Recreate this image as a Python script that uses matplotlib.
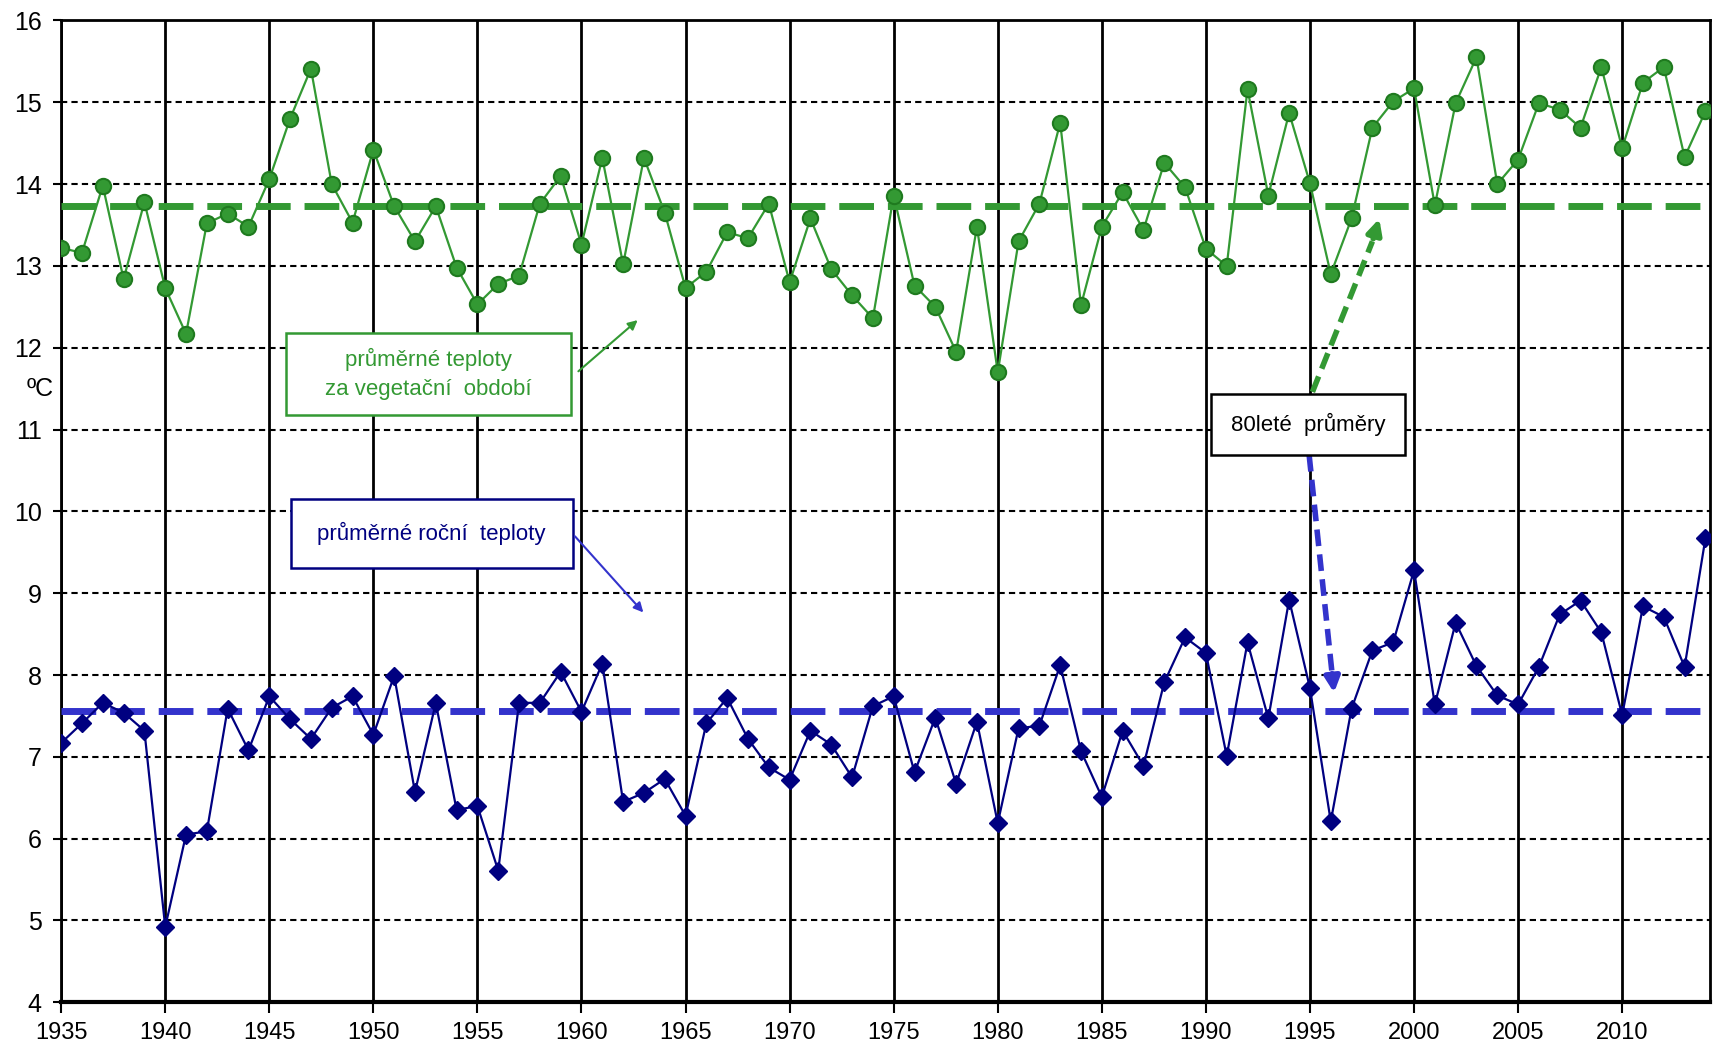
"""
Průměrné teploty 1935-2014: roční a za vegetační období, s 80letými průměry.
"""

import matplotlib

matplotlib.use("Agg")
import matplotlib.pyplot as plt
import numpy as np
from matplotlib.patches import Rectangle

years = np.arange(1935, 2015)

# average temperature in vegetation period (°C)
veg_temp = [
    13.22, 13.16, 13.98, 12.84, 13.78, 12.73, 12.17, 13.52, 13.64, 13.48,
    14.06, 14.80, 15.41, 14.00, 13.53, 14.42, 13.73, 13.30, 13.73, 12.98,
    12.53, 12.78, 12.88, 13.76, 14.10, 13.26, 14.32, 13.02, 14.32, 13.65,
    12.73, 12.93, 13.41, 13.34, 13.76, 12.80, 13.58, 12.96, 12.64, 12.36,
    13.86, 12.76, 12.50, 11.95, 13.48, 11.70, 13.30, 13.76, 14.75, 12.52,
    13.48, 13.90, 13.44, 14.26, 13.96, 13.21, 13.00, 15.16, 13.86, 14.87,
    14.01, 12.90, 13.58, 14.69, 15.01, 15.17, 13.74, 14.99, 15.55, 14.00,
    14.30, 14.99, 14.91, 14.69, 15.43, 14.44, 15.24, 15.43, 14.33, 14.89,
]

# average annual temperature (°C)
annual_temp = [
    7.17, 7.41, 7.66, 7.54, 7.32, 4.92, 6.05, 6.09, 7.59, 7.08,
    7.74, 7.46, 7.22, 7.60, 7.74, 7.27, 7.99, 6.57, 7.66, 6.35,
    6.40, 5.61, 7.66, 7.66, 8.04, 7.55, 8.14, 6.45, 6.56, 6.73,
    6.28, 7.41, 7.72, 7.22, 6.87, 6.72, 7.32, 7.15, 6.75, 7.62,
    7.74, 6.81, 7.48, 6.67, 7.43, 6.19, 7.35, 7.38, 8.12, 7.07,
    6.51, 7.32, 6.89, 7.91, 8.46, 8.27, 7.01, 8.40, 7.47, 8.92,
    7.84, 6.21, 7.59, 8.30, 8.40, 9.28, 7.64, 8.64, 8.11, 7.75,
    7.64, 8.10, 8.74, 8.91, 8.52, 7.51, 8.84, 8.71, 8.10, 9.67,
]

# 80-year means as drawn in the chart
veg_mean = 13.73
annual_mean = 7.56

GREEN = "#339933"
GREEN_EDGE = "#1f7a1f"
NAVY = "#000080"
BLUE = "#3333cc"
FONT = ["Liberation Sans Narrow", "Liberation Sans", "DejaVu Sans"]

plt.rcParams["font.family"] = FONT

fig = plt.figure(figsize=(17.13, 10.49), dpi=100)
ax = fig.add_axes([0.0357, 0.0445, 0.9623, 0.936])

ax.plot(years, veg_temp, "-o", color=GREEN, lw=1.6, ms=11,
        markerfacecolor=GREEN, markeredgecolor=GREEN_EDGE, mew=1.5, zorder=4)
ax.plot(years, annual_temp, "-D", color=NAVY, lw=1.6, ms=9,
        markerfacecolor=NAVY, markeredgecolor=NAVY, zorder=4)

ax.axhline(veg_mean, color=GREEN, lw=5, ls=(0, (5, 2)), zorder=3)
ax.axhline(annual_mean, color=BLUE, lw=5, ls=(0, (5, 2)), zorder=3)

ax.set_xlim(1935, 2014.2)
ax.set_ylim(4, 16)
ax.set_xticks(np.arange(1935, 2011, 5))
ax.set_yticks(np.arange(4, 17, 1))
ax.grid(axis="x", color="black", lw=2, ls="-", zorder=1)
ax.grid(axis="y", color="black", lw=1.5, ls=(0, (3, 2)), zorder=1)
ax.set_axisbelow(True)

for side in ["left", "right", "top"]:
    ax.spines[side].set_linewidth(2)
ax.spines["bottom"].set_linewidth(3)

ax.tick_params(axis="y", direction="out", length=6, width=1.5, labelsize=18, pad=8)
ax.tick_params(axis="x", direction="out", length=8, width=1.5, labelsize=17, pad=6)

ax.text(-0.013, 0.625, "ºC", transform=ax.transAxes, fontsize=18,
        ha="center", va="center")

# label boxes
ax.add_patch(Rectangle((1945.8, 11.18), 13.7, 1.0, facecolor="white",
                       edgecolor=GREEN, lw=1.8, zorder=6))
ax.text(1952.65, 11.68, "průměrné teploty\nza vegetační  období", color=GREEN,
        fontsize=16, ha="center", va="center", linespacing=1.5, zorder=7)
ax.annotate("", xy=(1962.8, 12.36), xytext=(1959.75, 11.69),
            arrowprops=dict(arrowstyle="-|>", color=GREEN, lw=1.5,
                            mutation_scale=14), zorder=7)

ax.add_patch(Rectangle((1946.05, 9.31), 13.55, 0.84, facecolor="white",
                       edgecolor=NAVY, lw=1.8, zorder=6))
ax.text(1952.8, 9.73, "průměrné roční  teploty", color=NAVY,
        fontsize=16, ha="center", va="center", zorder=7)
ax.annotate("", xy=(1963.06, 8.74), xytext=(1959.6, 9.72),
            arrowprops=dict(arrowstyle="-|>", color=BLUE, lw=1.5,
                            mutation_scale=14), zorder=7)

ax.add_patch(Rectangle((1990.25, 10.69), 9.3, 0.74, facecolor="white",
                       edgecolor="black", lw=1.8, zorder=6))
ax.text(1994.9, 11.06, "80leté  průměry", color="black",
        fontsize=16, ha="center", va="center", zorder=7)

# dashed pointer arrows from the 80-year label
ax.plot([1995.12, 1998.0], [11.46, 13.3], color=GREEN, lw=4,
        ls=(0, (3, 1.5)), zorder=5)
ax.annotate("", xy=(1998.37, 13.61), xytext=(1998.0, 13.3),
            arrowprops=dict(arrowstyle="-|>", color=GREEN, lw=4,
                            mutation_scale=22), zorder=5)
ax.plot([1994.96, 1996.05], [10.69, 8.05], color=BLUE, lw=4,
        ls=(0, (3, 1.5)), zorder=5)
ax.annotate("", xy=(1996.17, 7.75), xytext=(1996.05, 8.05),
            arrowprops=dict(arrowstyle="-|>", color=BLUE, lw=4,
                            mutation_scale=22), zorder=5)

fig.savefig("out.png", dpi=100)
